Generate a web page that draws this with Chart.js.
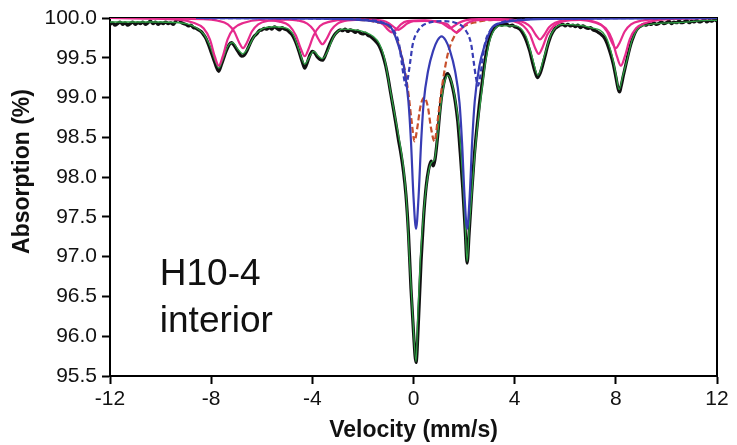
<!DOCTYPE html>
<html>
<head>
<meta charset="utf-8">
<script src="https://cdn.jsdelivr.net/npm/chart.js@4.4.1/dist/chart.umd.min.js"></script>
<style>
html,body{margin:0;padding:0;background:#fff;}
#wrap{width:737px;height:445px;position:relative;}
</style>
</head>
<body>
<div id="wrap"><canvas id="c" width="737" height="445"></canvas></div>
<script>
// ---- tick labels / text ----
const xTicks = [-12, -8, -4, 0, 4, 8, 12];
const yTicks = [95.5, 96.0, 96.5, 97.0, 97.5, 98.0, 98.5, 99.0, 99.5, 100.0];
const xTitle = 'Velocity (mm/s)';
const yTitle = 'Absorption (%)';
const sampleLines = ['H10-4', 'interior'];

// ---- measured spectrum (black) ----
const dataV = [-12.0,-11.9,-11.8,-11.7,-11.6,-11.5,-11.4,-11.3,-11.2,-11.1,-11.0,-10.9,-10.8,-10.7,-10.6,-10.5,-10.4,-10.3,-10.2,-10.1,-10.0,-9.9,-9.8,-9.7,-9.6,-9.5,-9.4,-9.3,-9.2,-9.1,-9.0,-8.9,-8.8,-8.7,-8.6,-8.5,-8.4,-8.3,-8.2,-8.1,-8.0,-7.9,-7.8,-7.7,-7.6,-7.5,-7.4,-7.3,-7.2,-7.1,-7.0,-6.9,-6.8,-6.7,-6.6,-6.5,-6.4,-6.3,-6.2,-6.1,-6.0,-5.9,-5.8,-5.7,-5.6,-5.5,-5.4,-5.3,-5.2,-5.1,-5.0,-4.9,-4.8,-4.7,-4.6,-4.5,-4.4,-4.3,-4.2,-4.1,-4.0,-3.9,-3.8,-3.7,-3.6,-3.5,-3.4,-3.3,-3.2,-3.1,-3.0,-2.9,-2.8,-2.7,-2.6,-2.5,-2.4,-2.3,-2.2,-2.1,-2.0,-1.9,-1.8,-1.7,-1.6,-1.5,-1.4,-1.3,-1.2,-1.1,-1.0,-0.9,-0.8,-0.7,-0.6,-0.5,-0.4,-0.3,-0.2,-0.1,0.0,0.1,0.2,0.3,0.4,0.5,0.6,0.7,0.78,0.85,0.95,1.05,1.15,1.25,1.35,1.45,1.55,1.65,1.75,1.85,1.95,2.05,2.12,2.2,2.3,2.4,2.5,2.6,2.7,2.8,2.9,3.0,3.1,3.2,3.3,3.4,3.5,3.6,3.7,3.8,3.9,4.0,4.1,4.2,4.3,4.4,4.5,4.6,4.7,4.8,4.9,5.0,5.1,5.2,5.3,5.4,5.5,5.6,5.7,5.8,5.9,6.0,6.1,6.2,6.3,6.4,6.5,6.6,6.7,6.8,6.9,7.0,7.1,7.2,7.3,7.4,7.5,7.6,7.7,7.8,7.9,8.0,8.1,8.15,8.2,8.3,8.4,8.5,8.6,8.7,8.8,8.9,9.0,9.1,9.2,9.3,9.4,9.5,9.6,9.7,9.8,9.9,10.0,10.1,10.2,10.3,10.4,10.5,10.6,10.7,10.8,10.9,11.0,11.1,11.2,11.3,11.4,11.5,11.6,11.7,11.8,11.9,12.0];
const dataA = [99.92,99.94,99.91,99.93,99.95,99.92,99.94,99.91,99.93,99.95,99.92,99.94,99.93,99.95,99.92,99.94,99.96,99.93,99.95,99.92,99.94,99.93,99.95,99.93,99.94,99.92,99.96,99.99,99.95,99.93,99.92,99.90,99.91,99.88,99.87,99.85,99.83,99.79,99.74,99.66,99.57,99.48,99.39,99.33,99.41,99.50,99.59,99.66,99.69,99.66,99.61,99.56,99.52,99.53,99.58,99.65,99.72,99.77,99.80,99.84,99.85,99.87,99.86,99.88,99.86,99.89,99.87,99.85,99.88,99.86,99.85,99.82,99.79,99.73,99.65,99.55,99.45,99.37,99.44,99.53,99.58,99.56,99.51,99.48,99.47,99.52,99.60,99.68,99.75,99.80,99.83,99.85,99.84,99.86,99.83,99.85,99.84,99.82,99.84,99.81,99.80,99.81,99.78,99.77,99.74,99.71,99.67,99.61,99.52,99.40,99.24,99.05,98.87,98.68,98.48,98.30,98.08,97.78,97.30,96.60,96.05,95.67,96.22,96.95,97.50,97.88,98.10,98.20,98.14,98.22,98.50,98.85,99.10,99.25,99.30,99.24,99.12,98.95,98.70,98.30,97.85,97.30,96.92,97.30,97.80,98.25,98.60,98.90,99.15,99.40,99.60,99.74,99.82,99.87,99.90,99.92,99.91,99.93,99.92,99.90,99.91,99.89,99.88,99.86,99.82,99.76,99.68,99.58,99.45,99.33,99.25,99.30,99.40,99.52,99.65,99.75,99.82,99.87,99.89,99.91,99.92,99.90,99.92,99.90,99.91,99.89,99.91,99.88,99.90,99.88,99.87,99.88,99.85,99.84,99.82,99.80,99.77,99.72,99.64,99.54,99.42,99.26,99.10,99.07,99.13,99.28,99.42,99.56,99.68,99.77,99.84,99.88,99.90,99.92,99.91,99.93,99.92,99.94,99.92,99.93,99.95,99.93,99.94,99.96,99.93,99.95,99.94,99.96,99.94,99.95,99.97,99.94,99.96,99.95,99.97,99.95,99.96,99.98,99.95,99.97,99.96,99.98,99.96];

// ---- total fit (green) ----
const fitV = [-12,-10,-9,-8.6,-8.3,-8.05,-7.85,-7.7,-7.55,-7.35,-7.15,-6.95,-6.75,-6.55,-6.3,-6.0,-5.5,-5.0,-4.75,-4.55,-4.3,-4.1,-3.95,-3.75,-3.6,-3.4,-3.15,-2.8,-2.3,-1.9,-1.6,-1.35,-1.15,-0.95,-0.75,-0.55,-0.4,-0.28,-0.16,-0.03,0.1,0.17,0.27,0.4,0.55,0.7,0.83,0.96,1.1,1.25,1.36,1.5,1.65,1.8,1.95,2.05,2.12,2.2,2.34,2.5,2.67,2.85,3.05,3.4,4.0,4.45,4.7,4.92,5.15,5.45,5.9,7.0,7.6,7.85,8.0,8.13,8.27,8.45,8.65,9.05,10.4,11.7,12];
const fitA = [99.95,99.95,99.93,99.88,99.80,99.65,99.47,99.37,99.47,99.64,99.69,99.61,99.55,99.62,99.77,99.86,99.89,99.87,99.79,99.62,99.42,99.52,99.58,99.52,99.49,99.58,99.77,99.86,99.85,99.82,99.77,99.68,99.50,99.15,98.80,98.45,98.13,97.72,96.98,96.25,95.68,96.25,96.96,97.55,97.98,98.18,98.22,98.55,98.95,99.22,99.28,99.20,98.98,98.62,97.95,97.35,96.94,97.35,97.95,98.55,99.00,99.45,99.75,99.90,99.90,99.77,99.50,99.28,99.50,99.80,99.92,99.88,99.77,99.53,99.30,99.10,99.27,99.48,99.73,99.90,99.94,99.97,99.97];

// ---- magenta sextet A (deeper) ----
const sextetAV = [-12,-9.3,-8.7,-8.3,-8.05,-7.85,-7.7,-7.55,-7.35,-7.1,-6.7,-6.1,-5.3,-4.9,-4.65,-4.45,-4.3,-4.15,-3.95,-3.7,-3.3,-2.7,-1.85,-1.45,-1.2,-1.0,-0.85,-0.7,-0.5,-0.25,0.45,1.1,1.35,1.55,1.7,1.85,2.05,2.3,2.9,3.95,4.35,4.6,4.8,4.95,5.1,5.3,5.55,5.95,6.6,7.2,7.6,7.85,8.05,8.2,8.35,8.55,8.8,9.2,9.8,12];
const sextetAA = [100,99.98,99.94,99.87,99.73,99.51,99.40,99.51,99.73,99.87,99.94,99.975,99.955,99.90,99.78,99.61,99.52,99.61,99.78,99.90,99.955,99.98,99.975,99.96,99.92,99.85,99.82,99.85,99.92,99.96,99.97,99.94,99.92,99.85,99.82,99.85,99.92,99.96,99.98,99.96,99.90,99.795,99.63,99.55,99.63,99.795,99.90,99.96,99.975,99.94,99.87,99.73,99.51,99.40,99.51,99.73,99.87,99.94,99.98,100];

// ---- magenta sextet B (shallower) ----
const sextetBV = [-12,-8.3,-7.74,-7.34,-7.09,-6.89,-6.74,-6.59,-6.39,-6.14,-5.74,-5.0,-4.6,-4.2,-3.95,-3.75,-3.6,-3.45,-3.25,-3.0,-2.6,-1.9,-1.2,-0.95,-0.75,-0.6,-0.45,-0.25,0.0,0.45,0.85,1.1,1.3,1.45,1.6,1.8,2.05,2.6,3.4,4.0,4.4,4.65,4.85,5.0,5.15,5.35,5.6,6.0,6.6,7.0,7.4,7.65,7.85,8.0,8.15,8.35,8.6,9.0,9.6,12];
const sextetBA = [100,99.985,99.965,99.92,99.83,99.69,99.62,99.69,99.83,99.92,99.965,99.98,99.97,99.93,99.85,99.73,99.67,99.73,99.85,99.93,99.97,99.98,99.965,99.93,99.88,99.85,99.88,99.93,99.96,99.965,99.96,99.94,99.90,99.87,99.90,99.94,99.97,99.985,99.985,99.975,99.94,99.88,99.78,99.73,99.78,99.88,99.94,99.975,99.985,99.965,99.92,99.83,99.69,99.62,99.69,99.83,99.92,99.965,99.985,100];

// ---- blue doublet (solid) ----
const solidV = [-8.6,-3,-1.9,-1.3,-0.9,-0.58,-0.38,-0.2,-0.1,0.0,0.1,0.2,0.3,0.4,0.58,0.78,0.95,1.11,1.27,1.44,1.64,1.82,1.92,2.02,2.12,2.22,2.32,2.42,2.6,2.8,3.12,3.5,4.1,5.2,12];
const solidA = [100,99.99,99.97,99.94,99.885,99.64,99.39,98.95,98.45,97.75,97.35,97.75,98.43,98.93,99.34,99.59,99.72,99.77,99.72,99.59,99.34,98.93,98.43,97.75,97.35,97.75,98.45,98.95,99.39,99.64,99.885,99.94,99.97,99.99,100];

// ---- blue doublet (dashed) ----
const dashV = [-8.6,-3.2,-1.8,-1.2,-0.8,-0.57,-0.47,-0.38,-0.3,-0.22,-0.13,-0.03,0.2,0.6,1.12,1.65,2.05,2.28,2.38,2.47,2.55,2.63,2.72,2.82,3.05,3.45,4.05,5.4,12];
const dashA = [100,99.99,99.975,99.94,99.85,99.67,99.45,99.25,99.15,99.25,99.45,99.67,99.85,99.94,99.96,99.94,99.85,99.67,99.45,99.25,99.15,99.25,99.45,99.67,99.85,99.94,99.975,99.99,100];

// ---- red doublet (dashed) ----
const redV = [-2.5,-1.5,-0.88,-0.6,-0.36,-0.2,-0.08,0.04,0.15,0.27,0.42,0.57,0.69,0.83,0.95,1.1,1.35,1.6,1.88,2.5,3.5];
const redA = [99.985,99.95,99.86,99.68,99.37,99.05,98.72,98.45,98.62,98.88,99.0,98.88,98.62,98.45,98.7,99.08,99.54,99.76,99.87,99.95,99.985];

const pts = (vs, as) => vs.map((v, i) => ({x: v, y: as[i]}));

const MAGENTA = '#e62a8c', BLUE = '#373cb4', RED = '#c8502d', GREEN = '#2f9e44', BLACK = '#111111';
const FONT = '"Liberation Sans", Arial, Helvetica, sans-serif';

const framePlugin = {
  id: 'frame',
  beforeDatasetsDraw(chart) {
    const {ctx, chartArea: a} = chart;
    ctx.save();
    ctx.strokeStyle = '#000';
    ctx.lineWidth = 2;
    ctx.beginPath();
    ctx.moveTo(a.left, a.top);
    ctx.lineTo(a.right, a.top);
    ctx.lineTo(a.right, a.bottom);
    ctx.stroke();
    ctx.restore();
  }
};

const textPlugin = {
  id: 'texts',
  afterDraw(chart) {
    const ctx = chart.ctx;
    ctx.save();
    ctx.fillStyle = BLACK;
    ctx.font = 'bold 23px ' + FONT;
    ctx.translate(23, 171.5);
    ctx.rotate(-Math.PI / 2);
    ctx.textAlign = 'center';
    ctx.textBaseline = 'middle';
    ctx.fillText(yTitle, 0, 0);
    ctx.restore();

    const xs = chart.scales.x, ys = chart.scales.y;
    ctx.save();
    ctx.fillStyle = BLACK;
    ctx.font = '37px ' + FONT;
    ctx.textAlign = 'left';
    ctx.textBaseline = 'alphabetic';
    const px = xs.getPixelForValue(-10.03);
    ctx.fillText(sampleLines[0], px, ys.getPixelForValue(96.644));
    ctx.fillText(sampleLines[1], px, ys.getPixelForValue(96.057));
    ctx.restore();
  }
};

new Chart(document.getElementById('c'), {
  type: 'line',
  data: {
    datasets: [
      {label: 'Blue doublet', data: pts(solidV, solidA), borderColor: BLUE, borderWidth: 2.2, order: 1},
      {label: 'Blue doublet 2', data: pts(dashV, dashA), borderColor: BLUE, borderWidth: 2.2, borderDash: [5, 3], order: 2},
      {label: 'Sextet A', data: pts(sextetAV, sextetAA), borderColor: MAGENTA, borderWidth: 2.2, order: 3},
      {label: 'Sextet B', data: pts(sextetBV, sextetBA), borderColor: MAGENTA, borderWidth: 2.2, order: 4},
      {label: 'Red doublet', data: pts(redV, redA), borderColor: RED, borderWidth: 2.2, borderDash: [6, 3], order: 5},
      {label: 'Fit', data: pts(fitV, fitA), borderColor: GREEN, borderWidth: 1.3, order: 6},
      {label: 'Data', data: pts(dataV, dataA), borderColor: BLACK, borderWidth: 3.2, order: 7}
    ]
  },
  options: {
    responsive: false,
    animation: false,
    layout: {padding: {left: 0, right: 20, top: 18, bottom: 0}},
    elements: {
      point: {radius: 0},
      line: {cubicInterpolationMode: 'monotone', fill: false}
    },
    plugins: {legend: {display: false}, tooltip: {enabled: false}},
    scales: {
      x: {
        type: 'linear', min: -12, max: 12,
        afterBuildTicks: s => { s.ticks = xTicks.map(v => ({value: v})); },
        afterFit: s => { s.height = 69; },
        grid: {drawOnChartArea: false, drawTicks: true, tickLength: 8, tickWidth: 2, tickColor: '#000'},
        border: {display: true, color: '#000', width: 2},
        ticks: {font: {family: FONT, size: 21}, color: BLACK, padding: 3, maxRotation: 0, autoSkip: false,
                callback: v => String(v)},
        title: {display: true, text: xTitle, color: BLACK, font: {family: FONT, size: 23, weight: 'bold'},
                padding: {top: 0, bottom: 1}}
      },
      y: {
        type: 'linear', min: 95.5, max: 100,
        afterBuildTicks: s => { s.ticks = yTicks.map(v => ({value: v})); },
        afterFit: s => { s.width = 110; },
        grid: {drawOnChartArea: false, drawTicks: true, tickLength: 8, tickWidth: 2, tickColor: '#000'},
        border: {display: true, color: '#000', width: 2},
        ticks: {font: {family: FONT, size: 21}, color: BLACK, padding: 5, autoSkip: false,
                callback: v => Number(v).toFixed(1)}
      }
    }
  },
  plugins: [framePlugin, textPlugin]
});
</script>
</body>
</html>
